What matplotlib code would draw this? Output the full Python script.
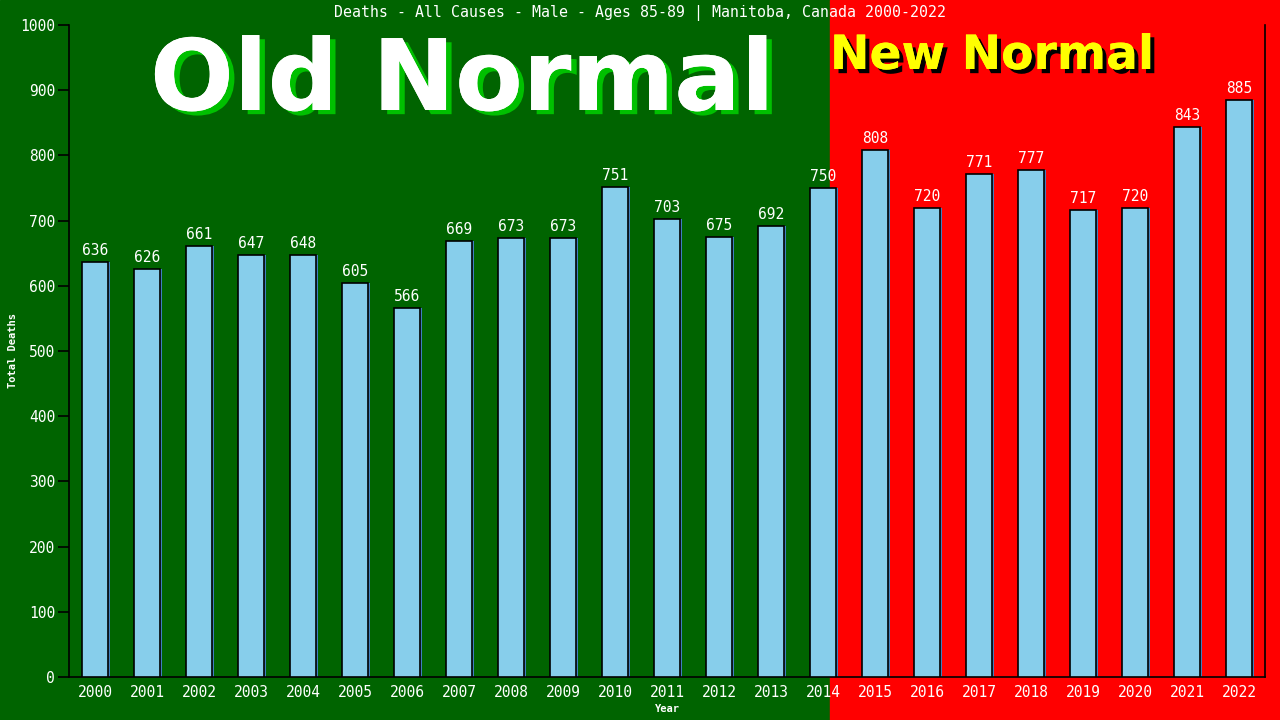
import matplotlib.pyplot as plt
from matplotlib.patches import Rectangle
import matplotlib.patheffects as pe

years = [str(y) for y in range(2000, 2023)]
deaths = [636, 626, 661, 647, 648, 605, 566, 669, 673, 673, 751, 703,
          675, 692, 750, 808, 720, 771, 777, 717, 720, 843, 885]
yticks = list(range(0, 1001, 100))
title = "Deaths - All Causes - Male - Ages 85-89 | Manitoba, Canada 2000-2022"

green = '#006400'
red = '#ff0000'
mono = 'DejaVu Sans Mono'

fig = plt.figure(figsize=(12.8, 7.2), dpi=100)
split = 830 / 1280
fig.patches.append(Rectangle((0, 0), split, 1, transform=fig.transFigure,
                             color=green, zorder=-10))
fig.patches.append(Rectangle((split, 0), 1 - split, 1, transform=fig.transFigure,
                             color=red, zorder=-10))

ax = fig.add_axes([69 / 1280, 1 - 677 / 720, (1265 - 69) / 1280, (677 - 25) / 720])
ax.set_facecolor('none')

x = list(range(len(years)))
# little blue shadow on the right side of each bar
ax.bar([i + 0.04 for i in x], deaths, width=0.5, color='#3f7fbf', zorder=2)
ax.bar(x, deaths, width=0.5, color='#87ceeb', edgecolor='black', linewidth=1.2, zorder=3)
for i, v in zip(x, deaths):
    ax.text(i, v + 6, str(v), ha='center', va='bottom', color='white',
            fontsize=10.5, family=mono, zorder=4)

ax.set_xlim(-0.5, len(years) - 0.5)
ax.set_ylim(0, 1000)
ax.set_xticks(x)
ax.set_xticklabels(years, family=mono, fontsize=10.5, color='white')
ax.set_yticks(yticks)
ax.set_yticklabels([str(t) for t in yticks], family=mono, fontsize=10.5, color='white')
ax.tick_params(axis='x', length=0, pad=6)
ax.tick_params(axis='y', length=8, width=1.2, color='black', pad=2)
ax.spines['top'].set_visible(False)
for s in ['left', 'bottom', 'right']:
    ax.spines[s].set_color('black')
    ax.spines[s].set_linewidth(1.2)

ax.set_xlabel('Year', family=mono, fontsize=7.5, fontweight='bold', color='white')
ax.set_ylabel('Total Deaths', family=mono, fontsize=7.5, fontweight='bold', color='white')
ax.xaxis.set_label_coords(0.5, -(709 - 677) / 652, transform=ax.transAxes)
ax.yaxis.set_label_coords(-(69 - 13) / 1196, 0.5, transform=ax.transAxes)
ax.xaxis.label.set_va('center')
ax.yaxis.label.set_va('center')

fig.text(0.5, 1 - 13 / 720, title, ha='center', va='center', color='white',
         fontsize=10.7, family=mono)

fig.text(150 / 1280, 1 - 110 / 720, 'Old Normal', ha='left', va='baseline',
         color='white', fontsize=71, fontweight='bold', family='DejaVu Sans',
         path_effects=[pe.withSimplePatchShadow(offset=(4, -3), shadow_rgbFace='#00c000', alpha=1),
                       pe.Normal()])
fig.text(830 / 1280, 1 - 69 / 720, 'New Normal', ha='left', va='baseline',
         color='#ffff00', fontsize=34, fontweight='bold', family='DejaVu Sans',
         path_effects=[pe.withSimplePatchShadow(offset=(3, -3), shadow_rgbFace='black', alpha=1),
                       pe.Normal()])

fig.savefig('out.png', dpi=100)
